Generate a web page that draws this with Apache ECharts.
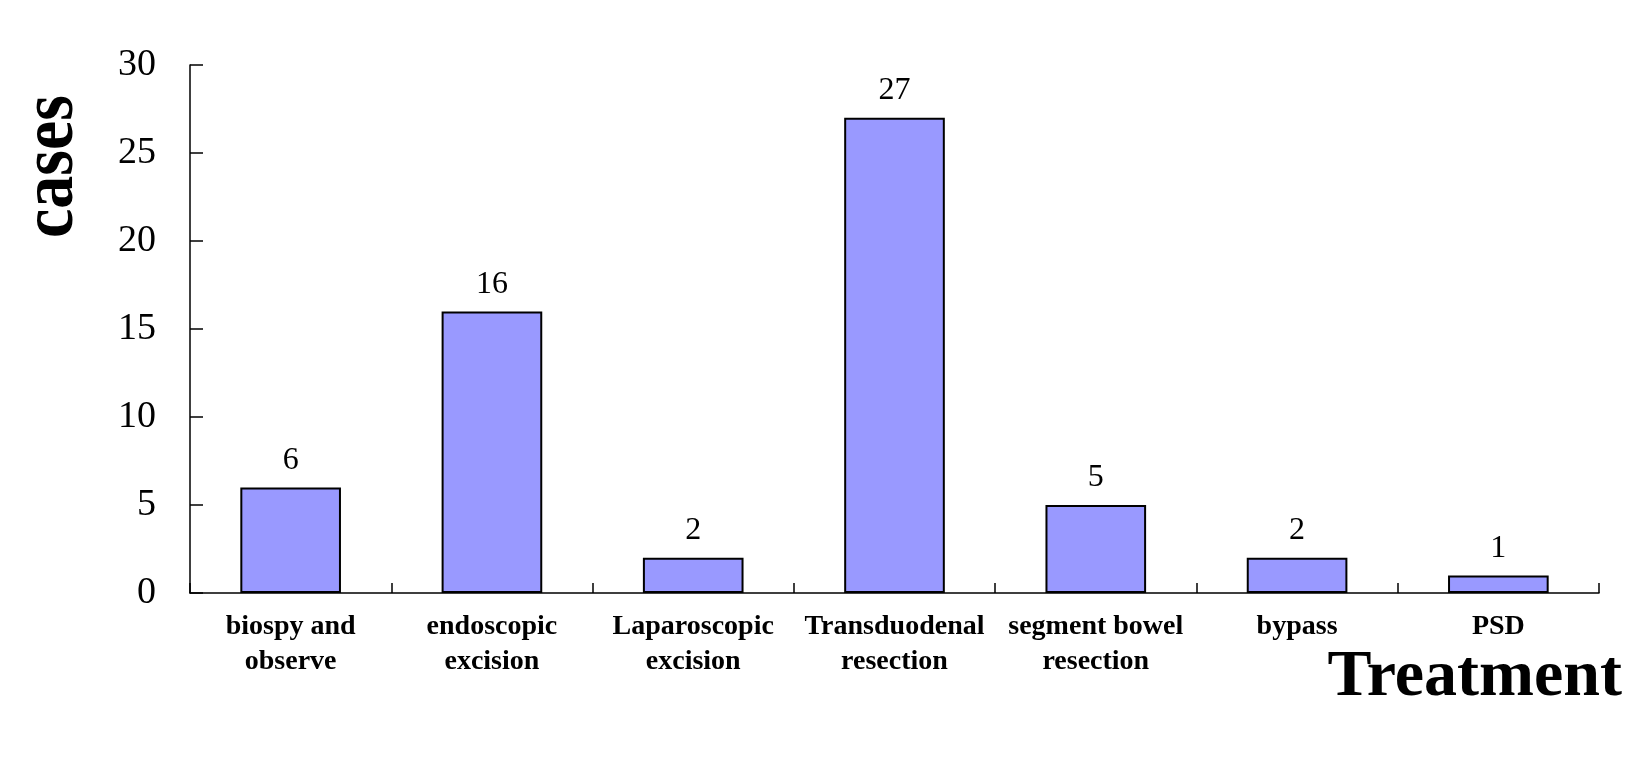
<!DOCTYPE html>
<html>
<head>
<meta charset="utf-8">
<script src="https://cdn.jsdelivr.net/npm/echarts@6/dist/echarts.min.js"></script>
<style>
html,body{margin:0;padding:0;background:#fff;}
#chart{width:1630px;height:780px;}
</style>
</head>
<body>
<div id="chart"></div>
<script>
const categories = ["biospy and\nobserve", "endoscopic\nexcision", "Laparoscopic\nexcision", "Transduodenal\nresection", "segment bowel\nresection", "bypass", "PSD"];
const values = [6, 16, 2, 27, 5, 2, 1];
const yTicks = { min: 0, max: 30, interval: 5 };
const yName = "cases";
const xName = "Treatment";

const chart = echarts.init(document.getElementById('chart'));
const serif = '"Liberation Serif", "Times New Roman", serif';
chart.setOption({
  backgroundColor: '#fff',
  animation: false,
  grid: { left: 190, right: 31, top: 65, bottom: 187, containLabel: false },
  xAxis: {
    type: 'category',
    data: categories,
    axisLine: { lineStyle: { color: '#000', width: 1.5 } },
    axisTick: { show: true, inside: true, length: 10, lineStyle: { color: '#000', width: 1.5 } },
    axisLabel: {
      interval: 0, margin: 16, color: '#000', fontFamily: serif, fontWeight: 'bold',
      fontSize: 28, lineHeight: 35
    },
    splitLine: { show: false }
  },
  yAxis: {
    type: 'value',
    min: yTicks.min, max: yTicks.max, interval: yTicks.interval,
    axisLine: { show: true, lineStyle: { color: '#000', width: 1.5 } },
    axisTick: { show: true, inside: true, length: 13, lineStyle: { color: '#000', width: 1.5 } },
    axisLabel: { margin: 34, color: '#000', fontFamily: serif, fontSize: 38 },
    splitLine: { show: false }
  },
  graphic: [
    {
      type: 'text', left: 16, top: 95, rotation: Math.PI / 2, scaleY: 1.12,
      style: { text: yName, fontFamily: serif, fontWeight: 'bold', fontSize: 66, fill: '#000' }
    },
    {
      type: 'text', right: 8, top: 645,
      style: { text: xName, fontFamily: serif, fontWeight: 'bold', fontSize: 66, fill: '#000' }
    }
  ],
  series: [{
    type: 'bar',
    data: values,
    barCategoryGap: '50%',
    itemStyle: { color: '#9999FF', borderColor: '#000', borderWidth: 2 },
    label: {
      show: true, position: 'top', distance: 11, color: '#000',
      fontFamily: serif, fontSize: 32
    }
  }]
});
</script>
</body>
</html>
